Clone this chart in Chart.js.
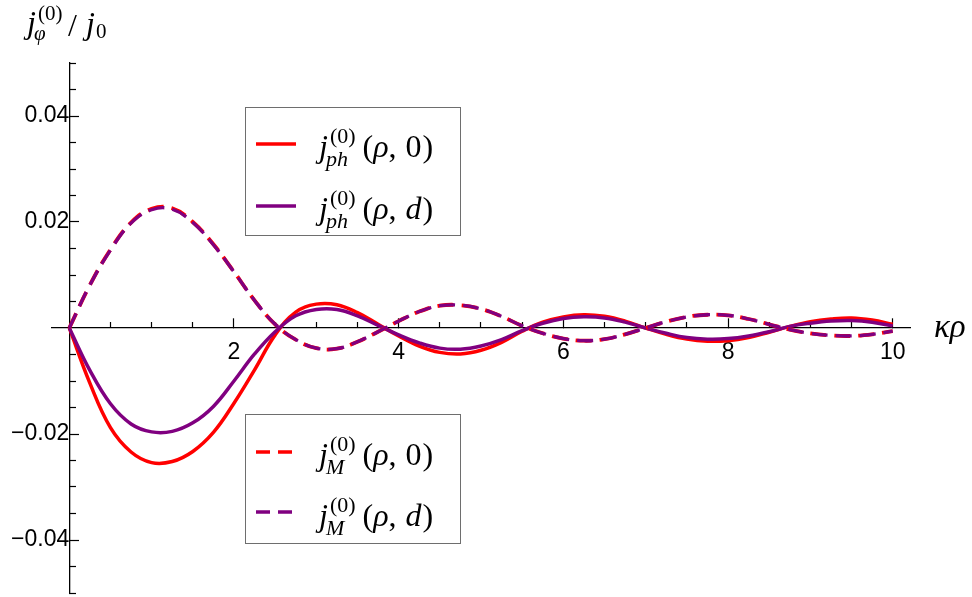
<!DOCTYPE html>
<html><head><meta charset="utf-8">
<script src="https://cdn.jsdelivr.net/npm/chart.js@4.4.1/dist/chart.umd.min.js"></script>
<style>html,body{margin:0;padding:0;background:#fff;} canvas{display:block;}</style>
</head><body>
<canvas id="c" width="972" height="597"></canvas>
<script>
const xValues = [0,0.25,0.5,0.75,1,1.25,1.5,1.75,2,2.25,2.5,2.75,3,3.25,3.5,3.75,4,4.25,4.5,4.75,5,5.25,5.5,5.75,6,6.25,6.5,6.75,7,7.25,7.5,7.75,8,8.25,8.5,8.75,9,9.25,9.5,9.75,10];
const phRho0 = [0,-0.0104,-0.0188,-0.0234,-0.0254,-0.0252,-0.0233,-0.0197,-0.0142,-0.0079,-0.0013,0.0030,0.0045,0.0044,0.0029,0.0007,-0.0015,-0.0034,-0.0046,-0.0049,-0.0042,-0.0027,-0.0006,0.0011,0.0021,0.0025,0.0022,0.0013,0,-0.0012,-0.0021,-0.0025,-0.0024,-0.0018,-0.0008,0.0003,0.0012,0.0017,0.0019,0.0015,0.0007];
const phRhoD = [0,-0.0080,-0.0143,-0.0181,-0.0196,-0.0195,-0.0179,-0.0148,-0.0100,-0.0049,-0.0007,0.0023,0.0035,0.0035,0.0023,0.0005,-0.0013,-0.0028,-0.0038,-0.0040,-0.0034,-0.0022,-0.0005,0.0009,0.0018,0.0021,0.0019,0.0011,0,-0.0010,-0.0018,-0.0021,-0.0020,-0.0015,-0.0007,0.0003,0.0009,0.0013,0.0014,0.0011,0.0004];
const mRho0 = [0,0.0081,0.0148,0.0199,0.0225,0.0226,0.0200,0.0158,0.0106,0.0052,0.0007,-0.0022,-0.0038,-0.0039,-0.0026,-0.0007,0.0013,0.0031,0.0042,0.0043,0.0036,0.0022,0.0004,-0.0010,-0.0020,-0.0024,-0.0021,-0.0012,0,0.0012,0.0021,0.0025,0.0024,0.0017,0.0007,-0.0003,-0.0010,-0.0014,-0.0015,-0.0012,-0.0006];
const mRhoD = [0,0.0081,0.0147,0.0198,0.0223,0.0224,0.0199,0.0157,0.0106,0.0052,0.0007,-0.0022,-0.0038,-0.0039,-0.0026,-0.0007,0.0013,0.0031,0.0042,0.0043,0.0036,0.0022,0.0004,-0.0010,-0.0020,-0.0024,-0.0021,-0.0012,0,0.0012,0.0021,0.0025,0.0024,0.0017,0.0007,-0.0003,-0.0010,-0.0014,-0.0015,-0.0012,-0.0006];
const xMajorTicks = [2,4,6,8,10];
const xTickLabels = ['2','4','6','8','10'];
const xMinorTicks = [0.5,1,1.5,2.5,3,3.5,4.5,5,5.5,6.5,7,7.5,8.5,9,9.5];
const yMajorTicks = [-0.04,-0.02,0.02,0.04];
const yTickLabels = ['\u22120.04','\u22120.02','0.02','0.04'];
const yMinorTicks = [-0.05,-0.045,-0.035,-0.03,-0.025,-0.015,-0.01,-0.005,0.005,0.01,0.015,0.025,0.03,0.035,0.045,0.05];

const RED = '#ff0000', PURPLE = '#800080';
const SERIF = '"Liberation Serif", "Times New Roman", serif';
const SANS = '"Liberation Sans", Arial, sans-serif';

function pts(arr){ return xValues.map((x,i)=>({x:x, y:arr[i]})); }

function seg(ctx, x, y, text, size, italic){
  ctx.font = (italic ? 'italic ' : '') + size + 'px ' + SERIF;
  ctx.fillText(text, x, y);
  return x + ctx.measureText(text).width;
}
function drawJ(ctx, x, y, sub, size, subItalic){
  const x1 = seg(ctx, x, y, 'j', size, true);
  const s = Math.round(size*0.68);
  const xa = seg(ctx, x1+2, y - size*0.45, '(0)', s, false);
  const xb = seg(ctx, x1-2, y + size*0.27, sub, s, subItalic);
  return Math.max(xa, xb);
}
function drawArgs(ctx, x, y, size, last){
  let xx = seg(ctx, x, y, '(', size, false);
  xx = seg(ctx, xx, y, '\u03C1', size, true);
  xx = seg(ctx, xx, y, ',', size, false);
  xx = seg(ctx, xx+9, y, last, size, last === 'd');
  xx = seg(ctx, xx+1, y, ')', size, false);
  return xx;
}

const textPlugin = {
  id: 'textPlugin',
  afterDraw(chart){
    const ctx = chart.ctx;
    ctx.save();
    ctx.fillStyle = '#000';
    ctx.textBaseline = 'alphabetic';
    ctx.textAlign = 'left';
    // y axis title
    let x = seg(ctx, 27, 33, 'j', 32, true);
    seg(ctx, x+2, 20, '(0)', 21, false);
    seg(ctx, x-2, 40, '\u03C6', 21, true);
    seg(ctx, 68, 36, '/', 32, false);
    x = seg(ctx, 86, 34, 'j', 32, true);
    seg(ctx, x+1, 38, '0', 21, false);
    // x axis title
    seg(ctx, 934, 337, '\u03BA\u03C1', 33, true);

    // legend boxes
    const boxes = [
      {x:245, y:107, w:215, h:128, rows:[
        {ly:144, by:157, color:RED, dash:[], sub:'ph', last:'0'},
        {ly:206, by:219, color:PURPLE, dash:[], sub:'ph', last:'d'}]},
      {x:245, y:414, w:215, h:129, rows:[
        {ly:452, by:465, color:RED, dash:[14,8], sub:'M', last:'0'},
        {ly:512, by:526, color:PURPLE, dash:[14,8], sub:'M', last:'d'}]}
    ];
    boxes.forEach(b=>{
      ctx.fillStyle = '#fff';
      ctx.fillRect(b.x, b.y, b.w, b.h);
      ctx.strokeStyle = '#6e6e6e';
      ctx.lineWidth = 1;
      ctx.setLineDash([]);
      ctx.strokeRect(b.x+0.5, b.y+0.5, b.w, b.h);
      b.rows.forEach(r=>{
        ctx.strokeStyle = r.color;
        ctx.lineWidth = 3.5;
        ctx.setLineDash(r.dash);
        ctx.beginPath();
        ctx.moveTo(256, r.ly);
        ctx.lineTo(r.dash.length ? 292 : 296, r.ly);
        ctx.stroke();
        ctx.setLineDash([]);
        ctx.fillStyle = '#000';
        const xe = drawJ(ctx, 319, r.by, r.sub, 32, true);
        drawArgs(ctx, xe + 7, r.by, 32, r.last);
      });
    });
    ctx.restore();
  }
};

function tickSetter(list){ return function(scale){ scale.ticks = list.map(v=>({value:v})); }; }
function noPad(scale){ scale.paddingTop = 0; scale.paddingBottom = 0; scale.paddingLeft = 0; scale.paddingRight = 0; }

new Chart(document.getElementById('c'), {
  type: 'line',
  data: {
    datasets: [
      {label:'jM(rho,d)', data: pts(mRhoD), borderColor: PURPLE, borderWidth: 3.3, borderDash:[16,8], pointRadius:0, tension:0.4, fill:false},
      {label:'jM(rho,0)', data: pts(mRho0), borderColor: RED, borderWidth: 3.8, borderDash:[16,8], pointRadius:0, tension:0.4, fill:false},
      {label:'jph(rho,d)', data: pts(phRhoD), borderColor: PURPLE, borderWidth: 3.5, pointRadius:0, tension:0.4, fill:false},
      {label:'jph(rho,0)', data: pts(phRho0), borderColor: RED, borderWidth: 3.5, pointRadius:0, tension:0.4, fill:false}
    ]
  },
  options: {
    responsive: false,
    animation: false,
    devicePixelRatio: 1,
    layout: { padding: {left: 52, right: 62, top: 63, bottom: 4} },
    plugins: { legend: {display:false}, tooltip: {enabled:false} },
    scales: {
      x: {
        type: 'linear', min: -0.21, max: 10.21, position: {y: 0},
        afterBuildTicks: tickSetter(xMajorTicks), afterFit: noPad,
        grid: {display:true, drawOnChartArea:false, drawTicks:true, tickLength:-10, tickColor:'#000', tickWidth:1.2},
        border: {display:true, color:'#000', width:1.3},
        ticks: {font:{family:SANS, size:23}, color:'#000', padding:20.5, autoSkip:false, maxRotation:0,
          callback: (v, i) => xTickLabels[i]}
      },
      x2: {
        type: 'linear', min: -0.21, max: 10.21, position: {y: 0}, axis: 'x',
        afterBuildTicks: tickSetter(xMinorTicks), afterFit: noPad,
        grid: {display:true, drawOnChartArea:false, drawTicks:true, tickLength:-6, tickColor:'#000', tickWidth:1.2},
        border: {display:false},
        ticks: {display:false}
      },
      y: {
        type: 'linear', min: -0.05, max: 0.05, position: {x: 0},
        afterBuildTicks: tickSetter(yMajorTicks), afterFit: noPad,
        grid: {display:true, drawOnChartArea:false, drawTicks:true, tickLength:-10, tickColor:'#000', tickWidth:1.2},
        border: {display:true, color:'#000', width:1.3},
        ticks: {font:{family:SANS, size:23}, color:'#000', padding:18.5, autoSkip:false,
          callback: (v, i) => yTickLabels[i]}
      },
      y2: {
        type: 'linear', min: -0.05, max: 0.05, position: {x: 0}, axis: 'y',
        afterBuildTicks: tickSetter(yMinorTicks), afterFit: noPad,
        grid: {display:true, drawOnChartArea:false, drawTicks:true, tickLength:-7, tickColor:'#000', tickWidth:1.2},
        border: {display:false},
        ticks: {display:false}
      }
    }
  },
  plugins: [textPlugin]
});
</script>
</body></html>
